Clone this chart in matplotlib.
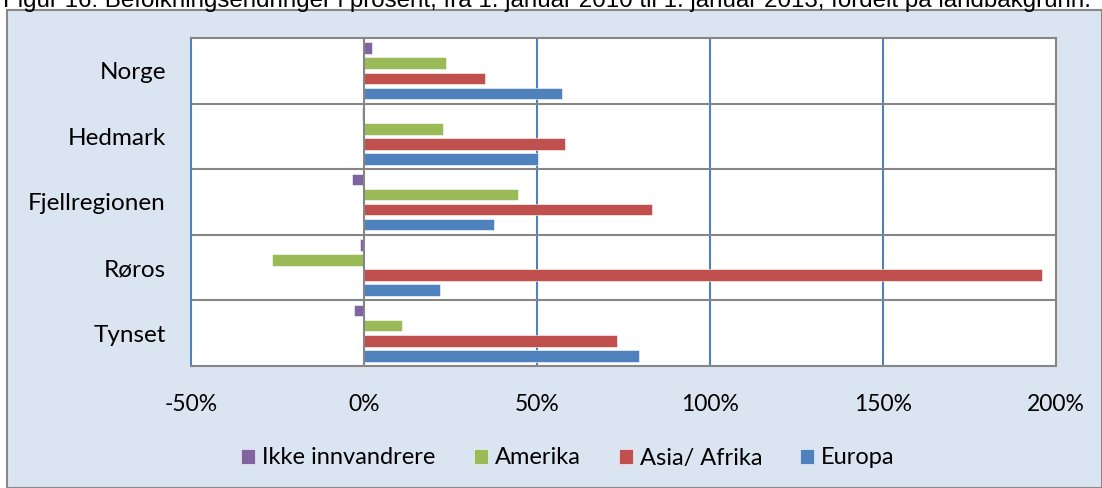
import matplotlib
matplotlib.use("Agg")
import matplotlib.pyplot as plt
import numpy as np
from matplotlib.patches import Rectangle

# data (percent change 2010-2013)
regions = ["Norge", "Hedmark", "Fjellregionen", "Røros", "Tynset"]
series = ["Ikke innvandrere", "Amerika", "Asia/ Afrika", "Europa"]
ikke_innvandrere = [2.2, -0.6, -3.5, -1.3, -3.0]
amerika = [23.6, 22.8, 44.4, -26.7, 11.1]
asia_afrika = [35.0, 58.0, 83.2, 196.0, 73.1]
europa = [57.3, 50.4, 37.7, 21.9, 79.4]
xticks = [-50, 0, 50, 100, 150, 200]
title = ("Figur 16: Befolkningsendringer i prosent, fra 1. januar 2010 til "
         "1. januar 2013, fordelt på landbakgrunn.")

colors = ["#8064A2", "#9BBB59", "#C0504D", "#4F81BD"]
W, H = 1102, 488

fig = plt.figure(figsize=(W / 100, H / 100), dpi=100)
fig.patch.set_facecolor("white")

# light blue chart box with gray border
fig.patches.append(Rectangle((7 / W, 0), (W - 7.5) / W, 1 - 9.5 / H,
                             transform=fig.transFigure, facecolor="#DBE5F1",
                             edgecolor="#888888", linewidth=1.5, zorder=-1))

# title, partly cut at the top edge as in the source; fit width to it
t = fig.text(3 / W, 1 - 7.5 / H, title, ha="left", va="baseline",
             fontsize=15, family="Liberation Sans", color="black")
fig.canvas.draw()
w = t.get_window_extent().width
t.set_fontsize(15 * 1090 / w)

ax = fig.add_axes([191 / W, 1 - 366 / H, 865 / W, 328 / H])
ax.set_zorder(2)
ax.set_facecolor("white")

y = np.arange(len(regions))
h = 0.177
step = 0.229
data = [ikke_innvandrere, amerika, asia_afrika, europa]
for i, (vals, name, c) in enumerate(zip(data, series, colors)):
    ax.barh(y + (i - 1.5) * step, vals, height=h, color=c, label=name,
            edgecolor="white", linewidth=0.4, zorder=3)

ax.set_ylim(len(regions) - 0.5, -0.5)
ax.set_xlim(-50, 200)
ax.set_xticks(xticks)
ax.set_xticklabels(["%d%%" % v for v in xticks], family="Lato",
                   fontsize=16.5)
ax.set_yticks(y)
ax.set_yticklabels(regions, family="Lato", fontsize=17.5)
ax.tick_params(axis="both", length=0)
ax.tick_params(axis="x", pad=20)
ax.tick_params(axis="y", pad=18)

# grid: blue verticals, gray category separators, gray zero line
for xv in [50, 100, 150]:
    ax.axvline(xv, color="#4F81BD", linewidth=1.5, zorder=1)
for yv in np.arange(0.5, len(regions) - 0.5):
    ax.axhline(yv, color="#868686", linewidth=1.5, zorder=1)
ax.axvline(0, color="#868686", linewidth=1.5, zorder=4)

for side in ["top", "bottom", "right"]:
    ax.spines[side].set_color("#868686")
    ax.spines[side].set_linewidth(1.5)
ax.spines["left"].set_color("#4F81BD")
ax.spines["left"].set_linewidth(1.5)

leg = fig.legend(loc="center", bbox_to_anchor=(568 / W, 1 - 458 / H),
                 ncol=4, frameon=False, handlelength=0.6, handleheight=0.6,
                 handletextpad=0.3, columnspacing=1.6,
                 prop={"family": "Lato", "size": 17})

fig.savefig("out.png", dpi=100, facecolor=fig.get_facecolor())
